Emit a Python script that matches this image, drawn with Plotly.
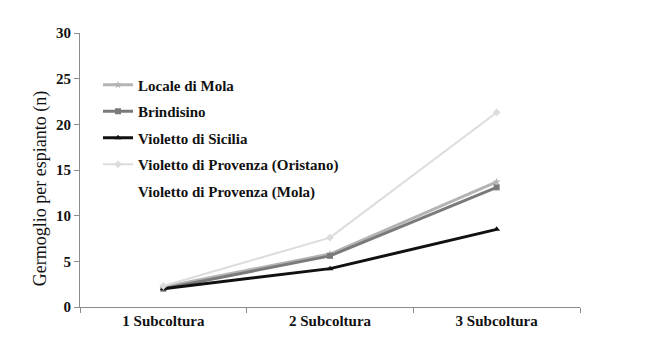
import plotly.graph_objects as go

categories = ["1 Subcoltura", "2 Subcoltura", "3 Subcoltura"]
series_names = ["Locale di Mola", "Brindisino", "Violetto di Sicilia",
                "Violetto di Provenza (Oristano)", "Violetto di Provenza (Mola)"]
locale_mola = [2.2, 5.8, 13.7]
brindisino = [2.0, 5.6, 13.1]
violetto_sicilia = [2.0, 4.2, 8.5]
provenza_oristano = [2.3, 7.6, 21.3]
provenza_mola = [2.1, 5.5, 12.5]
y_ticks = [0, 5, 10, 15, 20, 25, 30]
y_title = "Germoglio per espianto (n)"

values = [locale_mola, brindisino, violetto_sicilia, provenza_oristano, provenza_mola]
colors = ["#b4b4b4", "#7a7a7a", "#111111", "#dcdcdc", "rgba(255,255,255,0)"]
symbols = ["star", "square", "triangle-up", "diamond", "circle"]
widths = [3, 3, 3, 2, 0.1]

fig = go.Figure()
for i, (name, vals) in enumerate(zip(series_names, values)):
    fig.add_trace(go.Scatter(
        x=categories, y=vals, name=name, mode="lines+markers",
        line=dict(color=colors[i], width=widths[i]),
        marker=dict(symbol=symbols[i], size=6 if i < 4 else 1, color=colors[i]),
        legendgroup=f"g{i}",
    ))

serif = "Liberation Serif"
fig.update_layout(
    width=646, height=339,
    margin=dict(l=72, r=74, t=25, b=40),
    paper_bgcolor="white", plot_bgcolor="white",
    font=dict(family=serif, color="#111111"),
    showlegend=True,
    legend=dict(
        x=0.036, y=0.87, xanchor="left", yanchor="top",
        font=dict(family=serif, size=15, color="#111111", weight="bold"),
        bgcolor="rgba(0,0,0,0)", itemwidth=30, tracegroupgap=4,
    ),
    xaxis=dict(
        type="category", showline=True, linecolor="#8c8c8c", linewidth=1,
        ticks="outside", ticklen=5, tickcolor="#8c8c8c", tickson="boundaries",
        showgrid=False, tickfont=dict(family=serif, size=15, weight="bold"),
        range=[-0.5, 2.5],
    ),
    yaxis=dict(
        range=[0, 30], tickvals=y_ticks, showline=True, linecolor="#8c8c8c",
        linewidth=1, ticks="outside", ticklen=5, tickcolor="#8c8c8c",
        showgrid=False, zeroline=False,
        tickfont=dict(family=serif, size=15, weight="bold"),
    ),
    annotations=[dict(
        text=y_title, textangle=-90, xref="paper", yref="paper",
        x=0, y=0.43, xanchor="center", yanchor="middle", xshift=-40,
        showarrow=False, font=dict(family=serif, size=18, color="#111111"),
    )],
)

fig.write_html("out.html")
